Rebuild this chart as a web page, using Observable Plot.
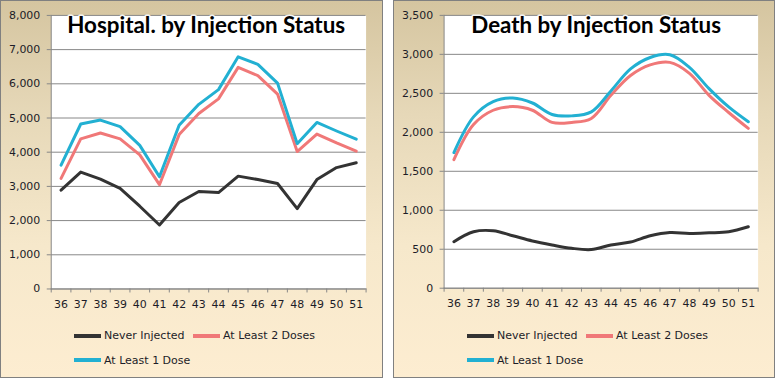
<!DOCTYPE html>
<html><head><meta charset="utf-8">
<script src="https://cdn.jsdelivr.net/npm/d3@7"></script>
<script src="https://cdn.jsdelivr.net/npm/@observablehq/plot@0.6"></script>
<style>
body{margin:0;background:#fff;}
#wrap{position:relative;width:775px;height:379px;font-family:"DejaVu Sans",Verdana,sans-serif;}
.panel{position:absolute;top:0;height:378px;box-sizing:border-box;border:1px solid #808080;
  background:linear-gradient(to bottom,#d5c5a0 0%,#e6d8b8 30%,#f6e8cb 65%,#fdedd1 100%);overflow:hidden;}
.panel svg{position:absolute;left:-1px;top:-1px;}
.item{position:absolute;white-space:nowrap;display:flex;align-items:center;height:14px;font-size:11px;color:#1c1c28;}
.swatch{display:inline-block;width:27px;height:4px;margin-right:3px;}
</style></head>
<body><div id="wrap"></div>
<script>
// ---- data ----
const weeks = [36,37,38,39,40,41,42,43,44,45,46,47,48,49,50,51];
const seriesNames = ["Never Injected","At Least 2 Doses","At Least 1 Dose"];
const seriesColors = ["#333333","#f07878","#22b0d2"];

const hospNever = [2890,3420,3210,2940,2420,1870,2530,2850,2820,3300,3200,3085,2350,3200,3550,3690];
const hospTwo   = [3235,4390,4560,4390,3920,3050,4515,5130,5560,6480,6240,5700,4020,4530,4270,4030];
const hospOne   = [3620,4825,4940,4750,4200,3280,4790,5400,5830,6790,6570,6020,4250,4870,4620,4380];

const deathNever = [597,724,737,673,606,555,512,496,555,593,673,715,703,711,724,788];
const deathTwo   = [1650,2100,2283,2330,2283,2127,2127,2178,2474,2728,2864,2897,2757,2474,2254,2050];
const deathOne   = [1740,2198,2394,2440,2376,2229,2211,2262,2530,2813,2960,2995,2834,2560,2325,2135];

const hospTicks  = [0,1000,2000,3000,4000,5000,6000,7000,8000];
const deathTicks = [0,500,1000,1500,2000,2500,3000,3500];

const hospTitle  = "Hospital. by Injection Status";
const deathTitle = "Death by Injection Status";

// ---- build ----
function table(arrs){
  const rows = [];
  arrs.forEach((arr,si)=>arr.forEach((v,i)=>rows.push({week:weeks[i],value:v,series:seriesNames[si]})));
  return rows;
}
const bounds = weeks.map(w=>w-0.5).concat([weeks[weeks.length-1]+0.5]);
const gray = "#878787";
const fmt = d3.format(",");

function chart(arrs, ticks, title, curve, titleDx){
  const data = table(arrs);
  return Plot.plot({
    width:383, height:320,
    marginLeft:51, marginRight:15.5, marginTop:15, marginBottom:30,
    style:{background:"transparent",fontFamily:"DejaVu Sans, Verdana, sans-serif",fontSize:"11px",color:"#1c1c28",overflow:"visible"},
    x:{domain:[bounds[0],bounds[bounds.length-1]]},
    y:{domain:[ticks[0],ticks[ticks.length-1]]},
    color:{domain:seriesNames,range:seriesColors},
    marks:[
      Plot.frame({fill:"white",stroke:null}),
      Plot.gridY(ticks,{stroke:gray,strokeOpacity:1}),
      Plot.frame({anchor:"left",stroke:gray}),
      Plot.frame({anchor:"bottom",stroke:gray}),
      Plot.axisY(ticks,{tickSize:4,tickPadding:7,tickFormat:fmt,stroke:gray,label:null}),
      Plot.axisX(bounds,{tickSize:4,tickFormat:()=>"",stroke:gray,label:null}),
      Plot.axisX(weeks,{tickSize:0,tickPadding:11,tickFormat:d=>String(d),label:null}),
      Plot.lineY(data,{x:"week",y:"value",stroke:"series",strokeWidth:3,curve}),
      Plot.text([title],{frameAnchor:"top",dy:2,dx:titleDx,fontSize:22.5,fontWeight:"bold",fontFamily:"Lato",
        fill:"#000",stroke:"white",strokeWidth:3,strokeOpacity:0.9})
    ]
  });
}

function legend(panel){
  const pos = [[73,0],[192,0],[73,24.3]];
  seriesNames.forEach((n,i)=>{
    const it = document.createElement("div");
    it.className="item";
    it.style.left = pos[i][0]+"px";
    it.style.top = (327.7+pos[i][1])+"px";
    it.innerHTML = `<span class="swatch" style="background:${seriesColors[i]}"></span><span>${n}</span>`;
    panel.appendChild(it);
  });
}

const wrap = document.getElementById("wrap");
function panel(left,width,svg){
  const p = document.createElement("div");
  p.className="panel";
  p.style.left=left+"px"; p.style.width=width+"px";
  p.appendChild(svg);
  legend(p);
  wrap.appendChild(p);
}
panel(0,383,chart([hospNever,hospTwo,hospOne],hospTicks,hospTitle,"linear",-2.5));
panel(393,382,chart([deathNever,deathTwo,deathOne],deathTicks,deathTitle,"catmull-rom",-5));
</script></body></html>
